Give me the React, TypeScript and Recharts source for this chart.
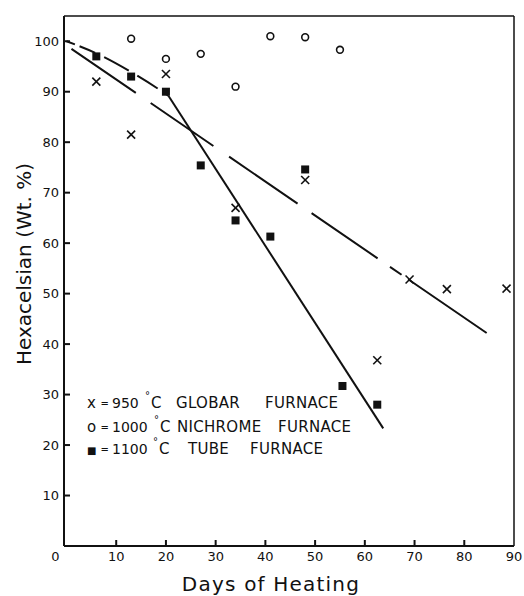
import React from 'react';
import { ComposedChart, Scatter, Line, XAxis, YAxis, ReferenceLine } from 'recharts';

// measured points (days, wt. %)
const globarDays = [6, 13, 20, 34, 48, 62.5, 69, 76.5, 88.5];
const globarPct = [92, 81.5, 93.5, 67, 72.5, 36.8, 52.8, 50.9, 51];
const nichromeDays = [13, 20, 27, 34, 41, 48, 55];
const nichromePct = [100.5, 96.5, 97.5, 91, 101, 100.8, 98.3];
const tubeDays = [6, 13, 20, 27, 34, 41, 48, 55.5, 62.5];
const tubePct = [97, 93, 90, 75.4, 64.5, 61.3, 74.6, 31.7, 28];

// hand drawn fit lines
const globarFitDays = [1, 84.5];
const globarFitPct = [98.5, 42.2];
const tubeCurveDays = [0, 6, 13, 19, 20.5];
const tubeCurvePct = [100, 97.6, 93.9, 90.2, 89.2];
const tubeFitDays = [20.5, 63.7];
const tubeFitPct = [89.2, 23.3];

const xTicks = [0, 10, 20, 30, 40, 50, 60, 70, 80, 90];
const yTicks = [10, 20, 30, 40, 50, 60, 70, 80, 90, 100];

const toPts = (xs: number[], ys: number[]) => xs.map((x, i) => ({ x, y: ys[i] }));

const FONT = '"DejaVu Sans", sans-serif';

const Cross = (p: any) => (
  <g stroke="#111" strokeWidth={1.6}>
    <line x1={p.cx - 4} y1={p.cy - 4} x2={p.cx + 4} y2={p.cy + 4} />
    <line x1={p.cx - 4} y1={p.cy + 4} x2={p.cx + 4} y2={p.cy - 4} />
  </g>
);
const Ring = (p: any) => <circle cx={p.cx} cy={p.cy} r={3.4} fill="#fff" stroke="#111" strokeWidth={1.6} />;
const Block = (p: any) => <rect x={p.cx - 4} y={p.cy - 4} width={8} height={8} fill="#111" />;

const XTick = (p: any) => {
  const v = p.payload.value;
  return (
    <g>
      {v > 0 && v < 90 && <line x1={p.x} y1={p.y} x2={p.x} y2={p.y - 6} stroke="#111" strokeWidth={2} />}
      <text x={v === 0 ? p.x - 11 : p.x} y={p.y + 15} textAnchor="middle" fontSize={13} fontFamily={FONT} fill="#111">
        {v}
      </text>
    </g>
  );
};

const YTick = (p: any) => (
  <g>
    <line x1={p.x} y1={p.y} x2={p.x + 6} y2={p.y} stroke="#111" strokeWidth={2} />
    <text x={p.x - 5} y={p.y + 4.5} textAnchor="end" fontSize={13} fontFamily={FONT} fill="#111">
      {p.payload.value}
    </text>
  </g>
);

// legend pieces: symbol, temperature, words (x positions)
const legendRows = [
  { y: 408, sym: 'x', symSize: 15, temp: '950', c: 151, words: [['GLOBAR', 176], ['FURNACE', 265]] },
  { y: 431.5, sym: 'o', symSize: 15, temp: '1000', c: 160, words: [['NICHROME', 177], ['FURNACE', 278]] },
  { y: 453.5, sym: '■', symSize: 10, temp: '1100', c: 159, words: [['TUBE', 188], ['FURNACE', 250]] },
];

export default function App() {
  return (
    <div style={{ position: 'absolute', left: 0, top: 0, width: 524, height: 596, background: '#fff' }}>
      <ComposedChart width={524} height={596} margin={{ top: 16, right: 10, bottom: 20, left: 14 }}>
        <XAxis
          type="number"
          dataKey="x"
          domain={[-0.5, 90]}
          ticks={xTicks}
          allowDataOverflow
          height={30}
          tickSize={0}
          tickMargin={0}
          tickLine={false}
          axisLine={{ stroke: '#111', strokeWidth: 2 }}
          tick={XTick}
        />
        <YAxis
          type="number"
          dataKey="y"
          domain={[0, 105]}
          ticks={yTicks}
          allowDataOverflow
          width={50}
          tickSize={0}
          tickMargin={0}
          tickLine={false}
          axisLine={{ stroke: '#111', strokeWidth: 2 }}
          tick={YTick}
        />
        <ReferenceLine y={105} stroke="#111" strokeWidth={1.5} />
        <ReferenceLine x={90} stroke="#111" strokeWidth={1.5} />
        <Line
          data={toPts(globarFitDays, globarFitPct)}
          dataKey="y"
          type="linear"
          stroke="#111"
          strokeWidth={2}
          strokeDasharray="78 18 76 19 83 17 80 15 14 8 300"
          dot={false}
          activeDot={false}
          isAnimationActive={false}
        />
        <Line
          data={toPts(tubeCurveDays, tubeCurvePct)}
          dataKey="y"
          type="monotone"
          stroke="#111"
          strokeWidth={2}
          strokeDasharray="9 5 17 10 28 10 24 10"
          dot={false}
          activeDot={false}
          isAnimationActive={false}
        />
        <Line
          data={toPts(tubeFitDays, tubeFitPct)}
          dataKey="y"
          type="linear"
          stroke="#111"
          strokeWidth={2}
          dot={false}
          activeDot={false}
          isAnimationActive={false}
        />
        <Scatter data={toPts(globarDays, globarPct)} shape={Cross} isAnimationActive={false} />
        <Scatter data={toPts(nichromeDays, nichromePct)} shape={Ring} isAnimationActive={false} />
        <Scatter data={toPts(tubeDays, tubePct)} shape={Block} isAnimationActive={false} />
      </ComposedChart>
      <svg width={524} height={596} style={{ position: 'absolute', left: 0, top: 0, pointerEvents: 'none' }}>
        <g fontFamily={FONT} fill="#111">
          {legendRows.map((r, i) => (
            <g key={i}>
              <text x={87} y={r.y} fontSize={r.symSize}>
                {r.sym}
              </text>
              <text x={100.5} y={r.y - 1} fontSize={10}>
                =
              </text>
              <text x={112} y={r.y} fontSize={14}>
                {r.temp}
              </text>
              <text x={r.c - 6} y={r.y - 9} fontSize={10}>
                °
              </text>
              <text x={r.c} y={r.y} fontSize={15}>
                C
              </text>
              {r.words.map(([t, x]) => (
                <text key={t + x} x={x as number} y={r.y} fontSize={15} letterSpacing={0.3}>
                  {t}
                </text>
              ))}
            </g>
          ))}
        </g>
        <text x={271} y={591} textAnchor="middle" fontSize={20} letterSpacing={1.2} fontFamily={FONT} fill="#111">
          Days of Heating
        </text>
        <text
          transform="translate(31 264) rotate(-90)"
          textAnchor="middle"
          fontSize={20}
          fontFamily={FONT}
          fill="#111"
        >
          Hexacelsian (Wt. %)
        </text>
      </svg>
    </div>
  );
}
